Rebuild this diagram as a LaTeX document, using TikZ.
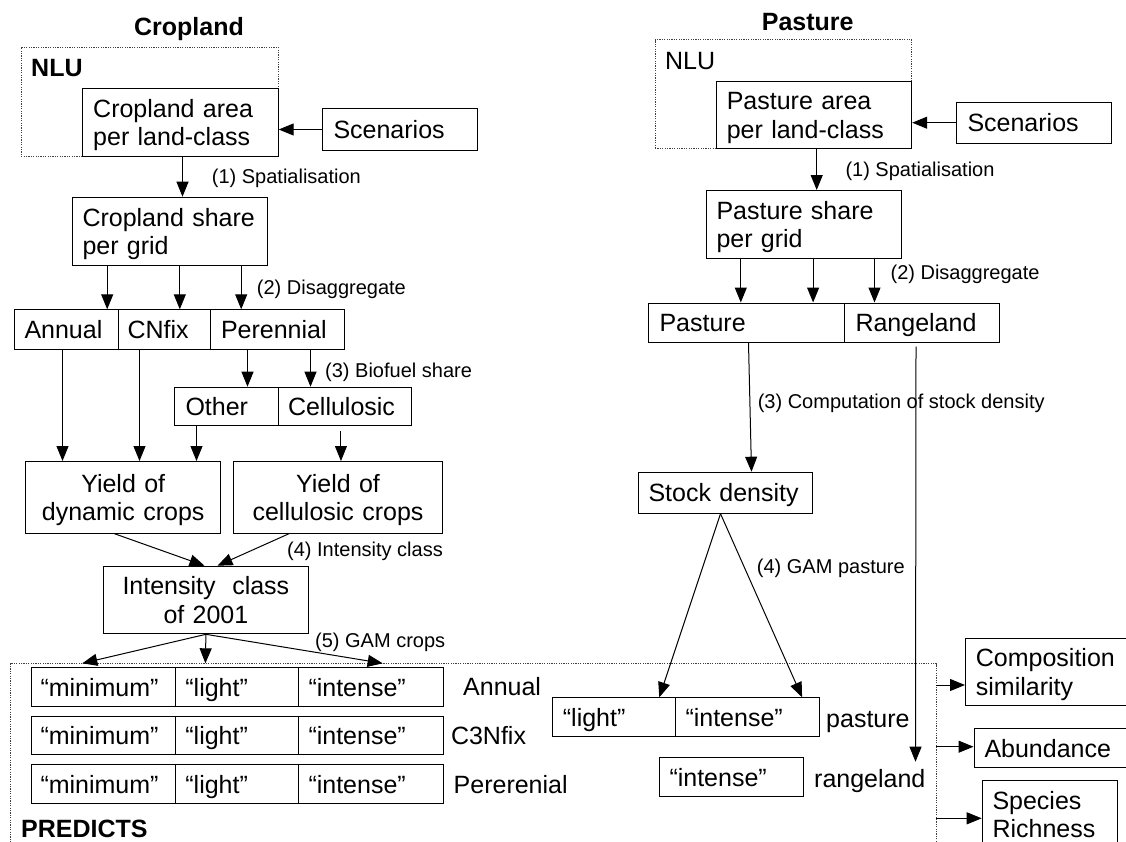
\documentclass[tikz,border=0pt]{standalone}
\usepackage{fontspec}
\setmainfont{Liberation Sans}
\usetikzlibrary{arrows.meta}
\newcommand\myboxfont{\fontsize{25}{28.7}\selectfont}
\newcommand\mylabfont{\fontsize{20}{23}\selectfont}
\newcommand\mytop{\rule{0pt}{24pt}}
\newcommand\mybot{\rule[-6pt]{0pt}{6pt}}
\begin{document}
\begin{tikzpicture}[x=1pt,y=-1pt,
  box/.style={draw=black, line width=1pt, anchor=north west, inner ysep=0pt, font=\myboxfont, align=left},
  one/.style={box, text height=24pt, text depth=6pt},
  two/.style={box},
  ctwo/.style={two, align=center},
  dotbox/.style={draw=black!75, line width=0.9pt, dash pattern=on 1.2pt off 1.2pt, anchor=north west, inner sep=0pt},
  lab/.style={font=\mylabfont, anchor=base west, inner sep=0pt},
  rowlab/.style={font=\myboxfont, anchor=base west, inner sep=0pt},
  ttl/.style={font=\myboxfont\bfseries, anchor=base, inner sep=0pt},
  arr/.style={line width=1pt, -{Triangle[length=15pt,width=12pt]}},
]
\path[use as bounding box, clip] (0,0) rectangle (1126,841);
\fill[white] (0,0) rectangle (1126,841);

% ---------------- Cropland ----------------
\node[ttl] (tcrop) at (189,35.7) {Cropland};
\node[dotbox, minimum width=257pt, minimum height=109pt] (nluL) at (20.7,46.7) {};
\node[rowlab, font=\myboxfont\bfseries] (nluLlab) at (31,76) {NLU};
\node[two, minimum height=67.4pt, text width=174.6pt, inner xsep=10.4pt] (areaL) at (82.3,88.3) {\mytop Cropland area\\per land-class\mybot};
\node[one, minimum height=41.4pt, text width=133.6pt, inner xsep=10.7pt] (scenL) at (322.3,108.3) {Scenarios};
\node[two, minimum height=68.3pt, text width=175pt, inner xsep=10.3pt] (shareL) at (71.7,196.7) {\mytop Cropland share\\per grid\mybot};

\node[one, minimum height=39.4pt, text width=83.6pt, inner xsep=10pt] (annual) at (14,309.3) {Annual};
\node[one, minimum height=39.4pt, text width=73.6pt, inner xsep=9.4pt] (cnfix) at (117.6,309.3) {CNfix};
\node[one, minimum height=39.4pt, text width=112.6pt, inner xsep=10.5pt] (perennial) at (210,309.3) {Perennial};

\node[one, minimum height=38.6pt, text width=81.8pt, inner xsep=10.7pt] (other) at (174.3,386.7) {Other};
\node[one, minimum height=38.6pt, text width=113.9pt, inner xsep=10pt] (cellu) at (277.5,386.7) {Cellulosic};

\node[ctwo, minimum height=71.7pt, text width=185.4pt, inner xsep=5pt] (ydyn) at (25,461) {\mytop Yield of\\dynamic crops\mybot};
\node[ctwo, minimum height=71.7pt, text width=199.2pt, inner xsep=5pt] (ycel) at (232.9,461) {\mytop Yield of\\cellulosic crops\mybot};
\node[ctwo, minimum height=67.6pt, text width=195pt, inner xsep=5pt] (intens) at (102.9,565.7) {\mytop Intensity\ \ class\\of 2001\mybot};

\node[lab] (l1L) at (211.7,183.9) {(1) Spatialisation};
\node[lab] (l2L) at (256.7,294.5) {(2) Disaggregate};
\node[lab] (l3L) at (325,377.9) {(3) Biofuel share};
\node[lab] (l4L) at (287,556.2) {(4) Intensity class};
\node[lab] (l5L) at (315,647.2) {(5) GAM crops};

% ---------------- PREDICTS ----------------
\node[dotbox, minimum width=926.1pt, minimum height=200pt] (predicts) at (9.6,663.3) {};
\node[rowlab, font=\myboxfont\bfseries] (predlab) at (21,837.3) {PREDICTS};

\foreach \r/\yy in {1/667.3, 2/715.7, 3/764.3}{
  \node[one, minimum height=38.7pt, text width=125.5pt, inner xsep=9.4pt] (mn\r) at (30.6,\yy) {“minimum”};
  \node[one, minimum height=38.7pt, text width=103.1pt, inner xsep=10pt] (lt\r) at (174.9,\yy) {“light”};
  \node[one, minimum height=38.7pt, text width=124.8pt, inner xsep=10pt] (in\r) at (298,\yy) {“intense”};
}
\node[rowlab] (rAnn) at (463,695.7) {Annual};
\node[rowlab] (rC3) at (450.8,744.7) {C3Nfix};
\node[rowlab] (rPer) at (453.5,793) {Pererenial};

% ---------------- Pasture ----------------
\node[ttl] (tpast) at (807.7,30.7) {Pasture};
\node[dotbox, minimum width=256.7pt, minimum height=109pt] (nluR) at (654.5,39.3) {};
\node[rowlab] (nluRlab) at (664.9,69) {NLU};
\node[two, minimum height=67.6pt, text width=174.6pt, inner xsep=10.3pt] (areaR) at (716,80.7) {\mytop Pasture area\\per land-class\mybot};
\node[one, minimum height=41pt, text width=133.1pt, inner xsep=10.7pt] (scenR) at (956.3,101.7) {Scenarios};
\node[two, minimum height=67.7pt, text width=174.4pt, inner xsep=10.4pt] (shareR) at (705.6,190) {\mytop Pasture share\\per grid\mybot};
\node[one, minimum height=39.5pt, text width=174pt, inner xsep=11pt] (pastC) at (648,302.5) {Pasture};
\node[one, minimum height=39.5pt, text width=133pt, inner xsep=11pt] (rangeC) at (844,302.5) {Rangeland};
\node[one, minimum height=41pt, text width=153.5pt, inner xsep=10.5pt] (stock) at (637.5,471.7) {Stock density};
\node[one, minimum height=38.7pt, text width=102.5pt, inner xsep=10.4pt] (plight) at (552,697.3) {“light”};
\node[one, minimum height=38.7pt, text width=124.3pt, inner xsep=9.7pt] (pint) at (675.3,697.3) {“intense”};
\node[one, minimum height=38.7pt, text width=123.8pt, inner xsep=10.2pt] (rint) at (658.8,757.3) {“intense”};
\node[rowlab] (rpast) at (826,727) {pasture};
\node[rowlab] (rrange) at (814,787) {rangeland};

\node[lab] (l1R) at (845.3,176.5) {(1) Spatialisation};
\node[lab] (l2R) at (890.4,279.9) {(2) Disaggregate};
\node[lab] (l3R) at (757.6,408.9) {(3) Computation of stock density};
\node[lab] (l4R) at (756.7,573.9) {(4) GAM pasture};

% ---------------- Outputs ----------------
\node[two, minimum height=67.3pt, text width=159.2pt, inner xsep=10.4pt] (comp) at (965,637.7) {\mytop Composition\\similarity\mybot};
\node[one, minimum height=39pt, text width=154pt, inner xsep=10.5pt] (abund) at (973.5,728.3) {Abundance};
\node[two, minimum height=68pt, text width=114.7pt, inner xsep=10.3pt] (species) at (981.7,780) {\mytop Species\\Richness\mybot};

% ---------------- Connectors: cropland ----------------
\draw[arr] (scenL.west) -- (scenL.west -| areaL.east);
\draw[arr] ([xshift=2pt]areaL.south) -- ([xshift=2pt]areaL.south |- shareL.north);
\draw[arr] ([xshift=-62.8pt]shareL.south) -- ([xshift=-62.8pt]shareL.south |- annual.north);
\draw[arr] ([xshift=9.8pt]shareL.south) -- ([xshift=9.8pt]shareL.south |- cnfix.north);
\draw[arr] ([xshift=71.2pt]shareL.south) -- ([xshift=71.2pt]shareL.south |- perennial.north);
\draw[arr] ([xshift=-29.8pt]perennial.south) -- ([xshift=-29.8pt]perennial.south |- other.north);
\draw[arr] ([xshift=33.2pt]perennial.south) -- ([xshift=33.2pt]perennial.south |- cellu.north);
\draw[arr] ([xshift=-3.8pt]annual.south) -- ([xshift=-3.8pt]annual.south |- ydyn.north);
\draw[arr] ([xshift=-24.8pt]cnfix.south) -- ([xshift=-24.8pt]cnfix.south |- ydyn.north);
\draw[arr] ([xshift=-29.9pt]other.south) -- ([xshift=-29.9pt]other.south |- ydyn.north);
\draw[arr] ([xshift=-4pt,yshift=-4.7pt]cellu.south) -- ([xshift=-4pt]cellu.south |- ycel.north);
\draw[arr] ([xshift=-8.7pt]ydyn.south) -- ([xshift=-1.4pt]intens.north);
\draw[arr] ([xshift=-49pt]ycel.south) -- ([xshift=11.6pt]intens.north);
\coordinate (t1) at (82.3,663.3);
\coordinate (t2) at (205.4,663.3);
\coordinate (t3) at (382.7,663.3);
\draw[arr] (intens.south) -- (t1);
\draw[arr] (intens.south) -- (t2);
\draw[arr] (intens.south) -- (t3);

% ---------------- Connectors: pasture ----------------
\draw[arr] (scenR.west) -- (scenR.west -| areaR.east);
\draw[arr] ([xshift=2.6pt]areaR.south) -- ([xshift=2.6pt]areaR.south |- shareR.north);
\draw[arr] ([xshift=-62.9pt]shareR.south) -- ([xshift=-62.9pt]shareR.south |- pastC.north);
\draw[arr] ([xshift=9.4pt]shareR.south) -- ([xshift=9.4pt]shareR.south |- pastC.north);
\draw[arr] ([xshift=70.8pt]shareR.south) -- ([xshift=70.8pt]shareR.south |- rangeC.north);
\draw[arr] ([xshift=2pt]pastC.south) -- ([xshift=26.25pt]stock.north);
\coordinate (rangetip) at (915.5,761.7);
\draw[arr] ([xshift=-6pt,yshift=-3.5pt]rangeC.south) -- (rangetip);
\draw[arr] ([xshift=-4.75pt]stock.south) -- ([xshift=45.15pt]plight.north);
\draw[arr] ([xshift=-4.75pt]stock.south) -- ([xshift=54.45pt]pint.north);

% ---------------- Connectors: outputs ----------------
\coordinate (o1) at (935.7,685);
\coordinate (o2) at (935.7,746.7);
\coordinate (o3) at (935.7,818.3);
\draw[arr] (o1) -- (o1 -| comp.west);
\draw[arr] (o2) -- (o2 -| abund.west);
\draw[arr] (o3) -- (o3 -| species.west);
\end{tikzpicture}
\end{document}
